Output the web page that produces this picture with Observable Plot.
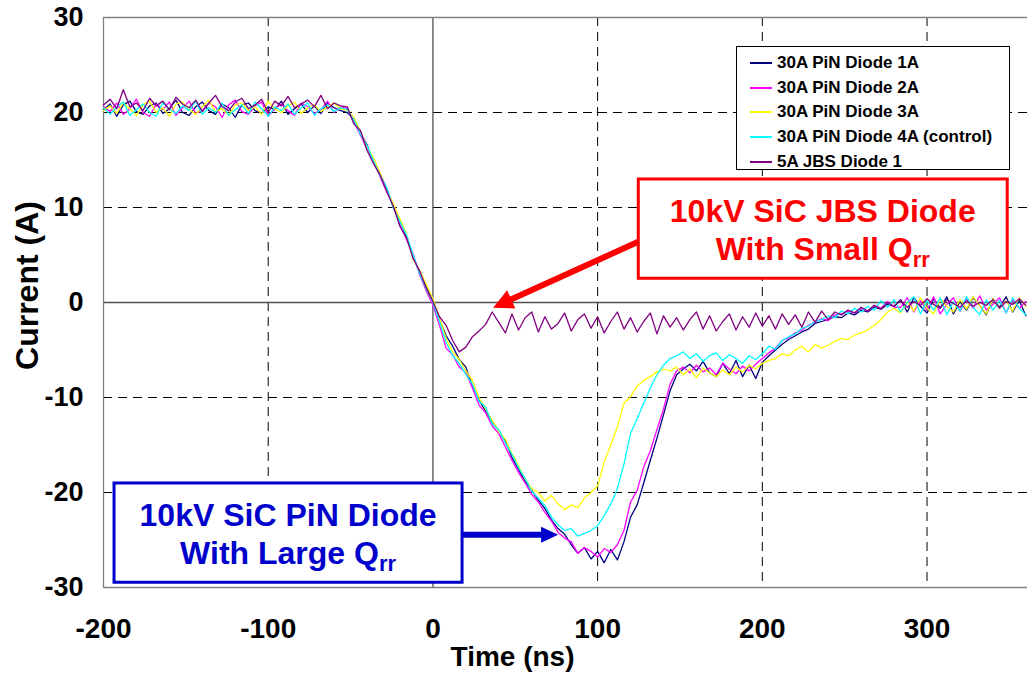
<!DOCTYPE html>
<html>
<head>
<meta charset="utf-8">
<script src="https://cdn.jsdelivr.net/npm/d3@7"></script>
<script src="https://cdn.jsdelivr.net/npm/@observablehq/plot@0.6"></script>
<style>
  html, body { margin: 0; padding: 0; background: #fff; }
  #wrap { position: relative; width: 1027px; height: 673px; overflow: hidden; background: #fff; }
  #legend { position: absolute; left: 736px; top: 46px; width: 274px; height: 124px; box-sizing: border-box;
            border: 1px solid #000; background: #fff; padding: 4px 0 0 13px;
            font-family: "Liberation Sans", Arial, sans-serif; font-weight: bold; font-size: 17px; color: #000; }
  #legend .row { display: flex; align-items: center; height: 24.6px; }
  #legend .sw { width: 22px; height: 0; border-top: 2px solid; margin-right: 5px; }
</style>
</head>
<body>
<div id="wrap"><div id="legend"></div></div>
<script>
// ---------------- data ----------------
// oscilloscope sample grid (ns)
const time = d3.range(-200, 361, 4);

const seriesNames = ["30A PiN Diode 1A", "30A PiN Diode 2A", "30A PiN Diode 3A", "30A PiN Diode 4A (control)", "5A JBS Diode 1"];
const seriesColors = ["#000080", "#FF00FF", "#FFFF00", "#00FFFF", "#800080"];

const pin1A = [
  20.3, 20.9, 19.6, 20.8, 21.2, 20.1, 19.8, 20.7, 21.0, 19.9,
  20.4, 21.3, 20.0, 19.7, 20.6, 21.1, 20.2, 19.8, 20.9, 20.5,
  19.5, 20.8, 21.0, 20.2, 19.9, 20.6, 20.3, 21.2, 19.8, 20.4,
  20.9, 20.0, 20.7, 19.9, 21.0, 20.5, 20.2,
  20.0, 19.3, 17.9, 16.6, 14.8, 13.5, 12.0, 10.0, 8.6, 7.0, 4.8, 3.2, 1.6, 0.2,
  -1.8, -3.5, -4.6, -6.0, -6.8, -8.8, -10.3, -11.4, -12.6, -13.5,
  -14.6, -16.3, -17.6, -18.8, -19.8, -20.8, -21.7, -22.9, -23.8, -24.4,
  -25.5, -26.4, -25.8, -27.0, -26.2, -27.4, -26.0, -27.1, -25.2, -22.6,
  -21.3, -19.0, -16.6, -14.3, -11.8, -9.3, -7.6, -7.0, -6.5, -7.2,
  -6.2, -7.4, -7.8, -6.4, -7.5, -6.1, -7.8, -6.6, -8.0, -6.3,
  -5.6, -5.0, -4.4, -3.9, -3.5, -3.1, -2.8, -2.2, -2.0, -1.8,
  -1.5, -1.6, -1.1, -1.3, -0.8, -1.0, -0.5, -0.7, -0.2, -0.4,
  0.3, -1.0, 0.5, -0.4, -1.1, 0.4, -0.6, 0.6, -1.2, 0.1,
  -0.8, 0.5, -0.3, -1.3, 0.4, -0.5, 0.6, -1.0, 0.2, -1.4
];
const pin2A = [
  20.6, 20.1, 21.0, 19.8, 20.4, 21.4, 20.0, 19.6, 20.9, 20.3,
  21.1, 19.7, 20.5, 21.2, 19.9, 20.2, 21.0, 20.6, 19.5, 20.8,
  21.3, 20.1, 19.8, 20.7, 21.1, 19.6, 20.4, 20.9, 20.2, 19.7,
  21.0, 20.6, 19.9, 20.3, 21.2, 20.0, 20.6,
  20.4, 19.0, 17.6, 16.2, 15.0, 13.2, 11.6, 10.3, 8.2, 6.6, 5.1, 2.9, 1.2, -0.3,
  -2.4, -4.8, -5.5, -6.8, -7.4, -9.0, -10.8, -11.6, -13.0, -13.8,
  -15.2, -16.6, -17.9, -19.0, -20.2, -21.0, -22.1, -23.0, -24.2, -24.8,
  -25.2, -26.4, -25.8, -26.2, -26.8, -25.9, -26.3, -25.5, -24.0, -21.0,
  -19.8, -17.3, -15.6, -13.4, -11.2, -8.6, -7.2, -6.8, -7.4, -6.6,
  -7.3, -6.9, -7.6, -6.4, -7.0, -7.5, -6.7, -7.2, -6.5, -5.9,
  -5.3, -4.8, -4.0, -3.7, -3.2, -2.9, -2.4, -2.1, -1.7, -1.9,
  -1.3, -1.2, -0.9, -1.1, -0.6, -0.9, -0.3, -0.6, 0.1, -0.5,
  -0.5, 0.5, -1.0, 0.2, -0.8, 0.6, -1.2, -0.2, 0.5, -0.9,
  0.3, -0.6, 0.7, -0.8, -0.2, 0.5, -1.1, 0.3, -0.6, 0.1
];
const pin3A = [
  20.2, 20.7, 19.9, 21.0, 20.4, 19.7, 20.8, 21.2, 20.0, 20.5,
  19.6, 20.9, 21.1, 20.3, 19.8, 20.6, 21.3, 20.1, 20.4, 19.7,
  20.8, 21.0, 20.2, 20.6, 19.8, 21.2, 20.4, 20.0, 20.7, 21.1,
  19.9, 20.5, 20.8, 20.1, 20.6, 21.0, 20.4,
  20.2, 19.5, 18.0, 16.4, 15.2, 13.6, 11.8, 10.4, 8.8, 7.2, 4.5, 3.4, 1.9, 0.4,
  -1.6, -3.8, -5.2, -6.0, -7.2, -8.2, -10.0, -11.2, -12.4, -13.6,
  -14.4, -15.9, -17.2, -18.6, -19.6, -20.0, -20.9, -20.3, -21.2, -21.8,
  -21.3, -21.6, -20.6, -20.0, -19.3, -16.8, -15.0, -13.1, -10.6, -9.9,
  -8.8, -8.2, -7.8, -7.3, -7.0, -7.2, -6.8, -7.6, -7.0, -7.9,
  -6.9, -7.4, -7.8, -7.1, -7.6, -6.8, -7.3, -6.6, -7.0, -6.4,
  -6.1, -5.9, -5.4, -5.6, -5.0, -4.6, -5.2, -4.4, -4.8, -4.5,
  -4.1, -3.8, -3.9, -3.4, -3.2, -2.9, -2.4, -1.8, -1.0, -0.6,
  -1.1, 0.1, -0.9, 0.5, -0.6, -1.2, 0.4, -0.4, -1.0, 0.3,
  -0.7, 0.6, -0.3, -1.2, 0.4, -0.6, 0.2, -0.9, 0.5, -0.4
];
const pin4A = [
  20.5, 19.8, 20.6, 21.1, 19.7, 20.3, 20.9, 20.0, 19.6, 21.0,
  20.4, 19.9, 20.7, 20.2, 21.2, 19.8, 20.5, 20.0, 21.0, 19.7,
  20.3, 20.8, 19.9, 21.1, 20.4, 19.6, 20.6, 20.2, 20.9, 19.8,
  20.5, 21.0, 19.7, 20.4, 20.8, 20.1, 20.5,
  20.3, 19.2, 17.7, 16.5, 14.9, 13.3, 12.1, 9.9, 8.5, 7.1, 5.0, 3.0, 1.4, 0.0,
  -2.0, -4.2, -5.6, -6.4, -7.6, -8.6, -10.4, -11.0, -12.8, -13.4,
  -14.8, -16.0, -17.4, -18.5, -19.9, -20.6, -21.4, -22.6, -23.4, -24.0,
  -23.8, -24.6, -24.3, -24.0, -23.5, -22.4, -21.2, -19.6, -17.0, -13.8,
  -12.2, -10.6, -9.0, -7.6, -6.6, -5.9, -5.6, -5.2, -5.9, -5.4,
  -6.2, -5.6, -5.3, -6.1, -5.5, -5.9, -6.4, -5.6, -6.0, -5.4,
  -4.6, -4.9, -4.0, -3.6, -3.3, -2.7, -2.5, -2.0, -1.8, -1.4,
  -1.6, -0.9, -1.2, -0.6, -1.0, -0.4, -0.8, 0.2, -0.5, 0.3,
  -1.0, 0.0, 0.6, -1.2, 0.2, -0.8, 0.5, -1.3, 0.1, -0.9,
  0.6, -0.5, -1.3, 0.3, -0.8, 0.2, -1.1, 0.5, -0.6, -1.3
];
const jbs1 = [
  20.8, 21.4, 20.4, 22.4, 20.6, 21.0, 20.2, 21.5, 20.7, 21.2,
  20.3, 21.6, 20.9, 20.5, 21.3, 20.1, 21.0, 21.8, 20.6, 20.2,
  21.1, 21.5, 20.4, 20.8, 21.4, 20.0, 21.2, 20.7, 21.7, 20.5,
  20.9, 21.3, 20.6, 21.8, 20.4, 21.0, 20.7,
  20.6, 18.8, 18.1, 16.0, 14.6, 13.4, 11.7, 10.1, 8.0, 6.8, 4.6, 3.3, 1.5, 0.1,
  -1.5, -2.4, -4.0, -5.2, -4.7, -3.6, -3.0, -2.3, -1.0, -2.1,
  -3.2, -1.2, -2.9, -1.6, -1.0, -3.1, -1.5, -2.8, -2.2, -1.1,
  -3.0, -1.8, -1.2, -2.7, -1.5, -3.2, -2.0, -1.0, -2.8, -1.6,
  -3.1, -2.0, -1.1, -3.3, -1.4, -2.6, -1.6, -2.9, -1.8, -1.0,
  -2.8, -1.4, -3.0, -2.0, -1.2, -2.9, -1.5, -2.6, -1.1, -2.5,
  -1.4, -2.8, -1.2, -2.3, -1.3, -2.6, -1.0, -2.1, -0.9, -1.8,
  -1.0, -1.3, -0.8, -1.1, -0.5, -0.9, -0.3, -0.7, 0.0, -0.4,
  0.2, -0.5, 0.1, -0.3, 0.4, -0.2, -0.6, 0.3, -0.1, -0.5,
  0.2, -0.4, 0.0, -0.3, 0.3, -0.6, 0.1, -0.2, 0.4, -0.3
];

const xTicks = [-200, -100, 0, 100, 200, 300];
const yTicks = [-30, -20, -10, 0, 10, 20, 30];
const xGrid = [-100, 100, 200, 300];
const yGrid = [-20, -10, 10, 20];
const xTitle = "Time (ns)";
const yTitle = "Current (A)";

// annotations (data units)
const jbsNote = { x1: 125, x2: 349, y1: 12.95, y2: 2.5, color: "#FF0000",
  line1: "10kV SiC JBS Diode", line2: "With Small Q", sub: "rr", from: [127, 6.5], to: [36.8, -0.6] };
const pinNote = { x1: -193.3, x2: 18.0, y1: -19.05, y2: -29.5, color: "#0000CC",
  line1: "10kV SiC PiN Diode", line2: "With Large Q", sub: "rr", from: [16, -24.5], to: [76.3, -24.5] };

// ---------------- build ----------------
const allSeries = [pin1A, pin2A, pin3A, pin4A, jbs1];
const tables = allSeries.map((vals, k) =>
  vals.map((v, i) => ({ t: time[i], v, s: seriesNames[k] })).filter(d => d.t !== undefined));

const font = "'Liberation Sans', Arial, sans-serif";

const chart = Plot.plot({
  width: 1027, height: 673,
  marginLeft: 103, marginRight: 0, marginTop: 17, marginBottom: 86,
  x: { domain: [-200, 361] },
  y: { domain: [-30, 30] },
  style: { fontFamily: font, background: "white", overflow: "visible" },
  marks: [
    Plot.ruleY(yGrid, { stroke: "#000", strokeDasharray: "9,6", strokeWidth: 1 }),
    Plot.ruleX(xGrid, { stroke: "#000", strokeDasharray: "9,6", strokeWidth: 1 }),
    Plot.ruleX([0], { stroke: "#505050", strokeWidth: 1.3 }),
    Plot.ruleY([0], { stroke: "#505050", strokeWidth: 1.3 }),
    Plot.ruleX([-200], { stroke: "#808080", strokeWidth: 1.3 }),
    Plot.ruleY([30, -30], { stroke: "#808080", strokeWidth: 1.3 }),
    Plot.axisX({ ticks: xTicks, tickSize: 0, tickPadding: 31, fontSize: 28, fontWeight: "bold",
      fontFamily: font, tickFormat: d => String(d), label: null }),
    Plot.axisY({ ticks: yTicks, tickSize: 0, tickPadding: 20, fontSize: 27, fontWeight: "bold",
      fontFamily: font, tickFormat: d => String(d), label: null }),
    Plot.text([xTitle], { text: d => d, frameAnchor: "bottom", dx: -53, dy: 70, lineAnchor: "middle",
      fontSize: 28, fontWeight: "bold", fontFamily: font, fill: "#000" }),
    Plot.text([yTitle], { text: d => d, frameAnchor: "left", textAnchor: "middle", dx: -76, dy: -17, rotate: -90,
      lineAnchor: "middle", fontSize: 32, fontWeight: "bold", fontFamily: font, fill: "#000" }),
    ...tables.map((tbl, k) => Plot.line(tbl, { x: "t", y: "v", stroke: seriesColors[k], strokeWidth: 1.3 }))
  ]
});
document.getElementById("wrap").prepend(chart);

// ---------------- annotations ----------------
const sx = chart.scale("x"), sy = chart.scale("y");
const svg = d3.select(chart);
const ag = svg.append("g");

function drawArrow(g, from, to, color, width, headLen, headW) {
  const x1 = sx.apply(from[0]), y1 = sy.apply(from[1]);
  const x2 = sx.apply(to[0]), y2 = sy.apply(to[1]);
  const dx = x2 - x1, dy = y2 - y1, L = Math.hypot(dx, dy);
  const ux = dx / L, uy = dy / L, px = -uy, py = ux;
  const bx = x2 - ux * headLen, by = y2 - uy * headLen;
  g.append("line").attr("x1", x1).attr("y1", y1).attr("x2", bx + ux).attr("y2", by + uy)
    .attr("stroke", color).attr("stroke-width", width);
  g.append("polygon").attr("fill", color)
    .attr("points", [[x2, y2], [bx + px * headW / 2, by + py * headW / 2], [bx - px * headW / 2, by - py * headW / 2]].map(p => p.join(",")).join(" "));
}
function drawNote(g, n, arrowW, headLen, headW) {
  drawArrow(g, n.from, n.to, n.color, arrowW, headLen, headW);
  const X1 = sx.apply(n.x1), X2 = sx.apply(n.x2), Y1 = sy.apply(n.y1), Y2 = sy.apply(n.y2);
  g.append("rect").attr("x", X1).attr("y", Y1).attr("width", X2 - X1).attr("height", Y2 - Y1)
    .attr("fill", "#fff").attr("stroke", n.color).attr("stroke-width", 3);
  const cx = (X1 + X2) / 2, cy = (Y1 + Y2) / 2;
  g.append("text").attr("x", cx).attr("y", cy - 7).attr("text-anchor", "middle")
    .attr("fill", n.color).attr("font-family", font).attr("font-weight", "bold").attr("font-size", 32).text(n.line1);
  const t2 = g.append("text").attr("x", cx).attr("y", cy + 31).attr("text-anchor", "middle")
    .attr("fill", n.color).attr("font-family", font).attr("font-weight", "bold").attr("font-size", 32);
  t2.append("tspan").text(n.line2);
  t2.append("tspan").attr("font-size", 22).attr("dy", 7).text(n.sub);
}
drawNote(ag, jbsNote, 6, 20, 20);
drawNote(ag, pinNote, 6, 17, 16);

// ---------------- legend ----------------
const legend = d3.select("#legend");
seriesNames.forEach((name, k) => {
  const row = legend.append("div").attr("class", "row");
  row.append("div").attr("class", "sw").style("border-color", seriesColors[k]);
  row.append("span").text(name);
});
</script>
</body>
</html>
